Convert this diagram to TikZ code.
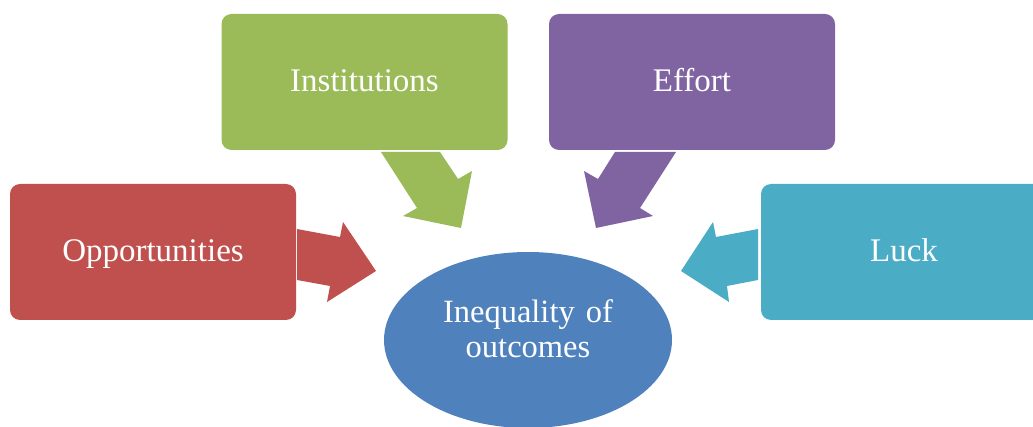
\documentclass[tikz,border=0pt]{standalone}
\usepackage{fontspec}
\setmainfont{Liberation Serif}
\usetikzlibrary{shapes.geometric}
\definecolor{cred}{HTML}{C0504D}
\definecolor{cgreen}{HTML}{9BBB59}
\definecolor{cpurple}{HTML}{8064A2}
\definecolor{cteal}{HTML}{4BACC6}
\definecolor{cblue}{HTML}{4F81BD}
\begin{document}
\begin{tikzpicture}[x=1pt,y=-1pt,
  box/.style={rounded corners=10pt, minimum width=286pt, minimum height=136pt,
    text=white, font=\fontsize{33}{38}\selectfont, text height=26pt, text depth=6pt, inner sep=0pt},
  blockarrow/.style={line join=miter}]
\useasboundingbox (0,0) rectangle (1033,427);
\clip (0,0) rectangle (1033,427);
\node[box, fill=cred] (opp) at (153,252) {Opportunities};
\node[box, fill=cgreen] (inst) at (364.5,82) {Institutions};
\node[box, fill=cpurple] (eff) at (692,82) {Effort};
\node[box, fill=cteal] (luck) at (904,252) {Luck};
\node[ellipse, fill=cblue, minimum width=288pt, minimum height=176pt, inner sep=0pt,
  text=white, align=center, font=\fontsize{32.5}{35}\selectfont] (ineq) at (528,340)
  {Inequality\hspace{3pt} of\\outcomes\rule[-22pt]{0pt}{0pt}};
% block arrows
\fill[blockarrow, cred] (297,229) -- (340,237) -- (343,222) -- (376,271) -- (327,302) -- (330,286) -- (297,280) -- cycle;
\fill[blockarrow, cgreen] (381,152) -- (440,152) -- (458,179) -- (472,171) -- (461,228) -- (403,216) -- (417,208) -- cycle;
\fill[blockarrow, cpurple] (676,152) -- (615,152) -- (598,179) -- (584,171) -- (596,228) -- (653,216) -- (640,208) -- cycle;
\fill[blockarrow, cteal] (758,229) -- (716,237) -- (713,222) -- (681,271) -- (729,302) -- (727,286) -- (758,280) -- cycle;
\end{tikzpicture}
\end{document}
